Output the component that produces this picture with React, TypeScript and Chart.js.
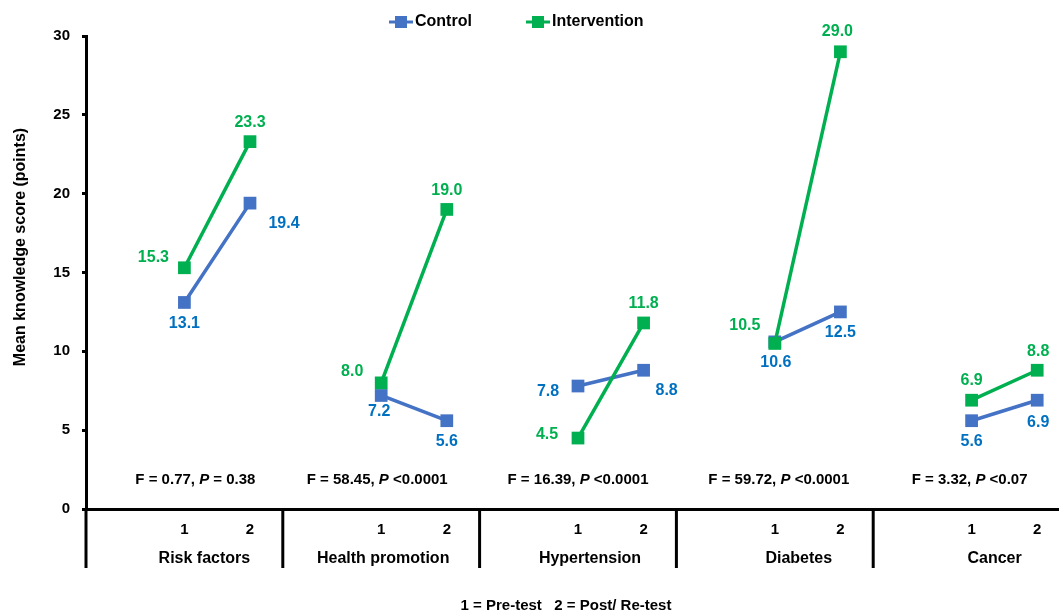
import React, { useEffect, useRef } from "react";
import { Chart, registerables } from "chart.js";

Chart.register(...registerables);

const groups = ["Risk factors", "Health promotion", "Hypertension", "Diabetes", "Cancer"];
const timeLabels = ["1", "2"];
const controlPre = [13.1, 7.2, 7.8, 10.6, 5.6];
const controlPost = [19.4, 5.6, 8.8, 12.5, 6.9];
const interventionPre = [15.3, 8.0, 4.5, 10.5, 6.9];
const interventionPost = [23.3, 19.0, 11.8, 29.0, 8.8];
const fValues = ["0.77", "58.45", "16.39", "59.72", "3.32"];
const pValues = ["= 0.38", "<0.0001", "<0.0001", "<0.0001", "<0.07"];
const yTicks = [0, 5, 10, 15, 20, 25, 30];

// label placement offsets (px) relative to each point: [pre, post] per group
const controlOffsets = [
  [[0, 21], [34, 20]],
  [[-2, 16], [0, 21]],
  [[-30, 6], [23, 20]],
  [[1, 21], [0, 21]],
  [[0, 21], [1, 22]],
];
const interventionOffsets = [
  [[-31, -10], [0, -19]],
  [[-29, -11], [0, -19]],
  [[-31, -3], [0, -19]],
  [[-30, -18], [-3, -20]],
  [[0, -20], [1, -19]],
];
const fOffsets = [11, -4, 0, 4, -2];
const groupNameOffsets = [20, 2, 12, 24, 23];

const CONTROL = "#4472C4";
const CONTROL_TEXT = "#0070C0";
const INTERV = "#00B050";
const FONT = "'Liberation Sans', Arial, sans-serif";

const categories: string[] = groups.flatMap(() => ["", ...timeLabels]);
const toSeries = (pre: number[], post: number[]) =>
  groups.flatMap((_, g) => [null, pre[g], post[g]]);

export default function App() {
  const ref = useRef<HTMLCanvasElement | null>(null);

  useEffect(() => {
    document.body.style.margin = "0";
    const canvas = ref.current;
    if (!canvas) return;

    const overlay = {
      id: "overlay",
      afterDraw(chart: any) {
        const ctx = chart.ctx as CanvasRenderingContext2D;
        const xs = chart.scales.x;
        const ys = chart.scales.y;
        const area = chart.chartArea;
        ctx.save();

        // data labels
        ctx.textAlign = "center";
        ctx.textBaseline = "middle";
        ctx.font = `bold 16px ${FONT}`;
        groups.forEach((_, g) => {
          [0, 1].forEach((k) => {
            const idx = g * 3 + 1 + k;
            const px = xs.getPixelForValue(idx);
            const cv = k === 0 ? controlPre[g] : controlPost[g];
            const iv = k === 0 ? interventionPre[g] : interventionPost[g];
            const co = controlOffsets[g][k];
            const io = interventionOffsets[g][k];
            ctx.fillStyle = CONTROL_TEXT;
            ctx.fillText(cv.toFixed(1), px + co[0], ys.getPixelForValue(cv) + co[1]);
            ctx.fillStyle = INTERV;
            ctx.fillText(iv.toFixed(1), px + io[0], ys.getPixelForValue(iv) + io[1]);
          });
        });

        // F statistics
        ctx.fillStyle = "#000";
        const fy = ys.getPixelForValue(1.85);
        groups.forEach((_, g) => {
          const parts: [string, boolean][] = [
            [`F = ${fValues[g]}, `, false],
            ["P", true],
            [" " + pValues[g], false],
          ];
          let w = 0;
          parts.forEach(([t, it]) => {
            ctx.font = `${it ? "italic " : ""}bold 15px ${FONT}`;
            w += ctx.measureText(t).width;
          });
          let x = xs.getPixelForValue(g * 3 + 1) + fOffsets[g] - w / 2;
          ctx.textAlign = "left";
          parts.forEach(([t, it]) => {
            ctx.font = `${it ? "italic " : ""}bold 15px ${FONT}`;
            ctx.fillText(t, x, fy);
            x += ctx.measureText(t).width;
          });
        });

        // separators and y axis extension
        ctx.strokeStyle = "#000";
        ctx.lineWidth = 3;
        const bottom = area.bottom;
        const sepBottom = bottom + 59;
        const lines: number[] = [area.left];
        for (let g = 1; g < groups.length; g++) {
          lines.push((xs.getPixelForValue(g * 3 - 1) + xs.getPixelForValue(g * 3)) / 2);
        }
        lines.forEach((lx) => {
          ctx.beginPath();
          ctx.moveTo(lx, bottom);
          ctx.lineTo(lx, sepBottom);
          ctx.stroke();
        });

        // x labels
        ctx.textAlign = "center";
        groups.forEach((name, g) => {
          ctx.font = `bold 15px ${FONT}`;
          timeLabels.forEach((t, k) => {
            ctx.fillText(t, xs.getPixelForValue(g * 3 + 1 + k), bottom + 21);
          });
          const gl = lines[g];
          const gr = gl + (xs.getPixelForValue(3) - xs.getPixelForValue(0));
          ctx.font = `bold 16px ${FONT}`;
          ctx.fillText(name, (gl + gr) / 2 + groupNameOffsets[g], bottom + 50);
        });

        // footnote
        ctx.font = `bold 15px ${FONT}`;
        ctx.fillText("1 = Pre-test   2 = Post/ Re-test", 566, bottom + 97);

        // y title
        ctx.save();
        ctx.translate(21, 247);
        ctx.rotate(-Math.PI / 2);
        ctx.font = `bold 16px ${FONT}`;
        ctx.fillText("Mean knowledge score (points)", 0, 0);
        ctx.restore();

        // legend
        const legend: [string, string, number][] = [
          ["Control", CONTROL, 389],
          ["Intervention", INTERV, 526],
        ];
        legend.forEach(([name, color, x0]) => {
          const ly = 22;
          ctx.strokeStyle = color;
          ctx.lineWidth = 3;
          ctx.beginPath();
          ctx.moveTo(x0, ly);
          ctx.lineTo(x0 + 24, ly);
          ctx.stroke();
          ctx.fillStyle = color;
          ctx.fillRect(x0 + 12 - 6, ly - 6, 12, 12);
          ctx.fillStyle = "#000";
          ctx.textAlign = "left";
          ctx.font = `bold 16px ${FONT}`;
          ctx.fillText(name, x0 + 26, ly);
        });

        ctx.restore();
      },
    };

    const chart = new Chart(canvas, {
      type: "line",
      data: {
        labels: categories,
        datasets: [
          {
            label: "Control",
            data: toSeries(controlPre, controlPost),
            borderColor: CONTROL,
            backgroundColor: CONTROL,
            borderWidth: 3.5,
            pointStyle: "rect",
            pointRadius: 9,
            pointBorderWidth: 0,
            spanGaps: false,
            order: 2,
          },
          {
            label: "Intervention",
            data: toSeries(interventionPre, interventionPost),
            borderColor: INTERV,
            backgroundColor: INTERV,
            borderWidth: 3.5,
            pointStyle: "rect",
            pointRadius: 9,
            pointBorderWidth: 0,
            spanGaps: false,
            order: 1,
          },
        ],
      },
      options: {
        animation: false,
        responsive: false,
        devicePixelRatio: 1,
        layout: { padding: { top: 36, right: 2, left: 0, bottom: 0 } },
        plugins: { legend: { display: false }, tooltip: { enabled: false } },
        scales: {
          x: {
            type: "category",
            offset: true,
            ticks: { display: false },
            grid: { display: false },
            border: { display: true, color: "#000", width: 3 },
            afterFit: (s: any) => {
              s.height = 104;
            },
          },
          y: {
            min: 0,
            max: 30,
            afterBuildTicks: (s: any) => {
              s.ticks = yTicks.map((v) => ({ value: v }));
            },
            ticks: {
              color: "#000",
              font: { family: FONT, size: 15, weight: "bold" },
              padding: 12,
            },
            grid: {
              display: true,
              drawOnChartArea: false,
              drawTicks: true,
              tickLength: 4,
              color: "#000",
              lineWidth: 3,
            },
            border: { display: true, color: "#000", width: 3 },
            afterFit: (s: any) => {
              s.width = 86;
            },
          },
        },
      },
      plugins: [overlay],
    } as any);

    return () => chart.destroy();
  }, []);

  return (
    <div style={{ width: 1059, height: 613, overflow: "hidden", position: "relative", background: "#fff" }}>
      <canvas ref={ref} width={1079} height={613} style={{ display: "block" }} />
    </div>
  );
}
